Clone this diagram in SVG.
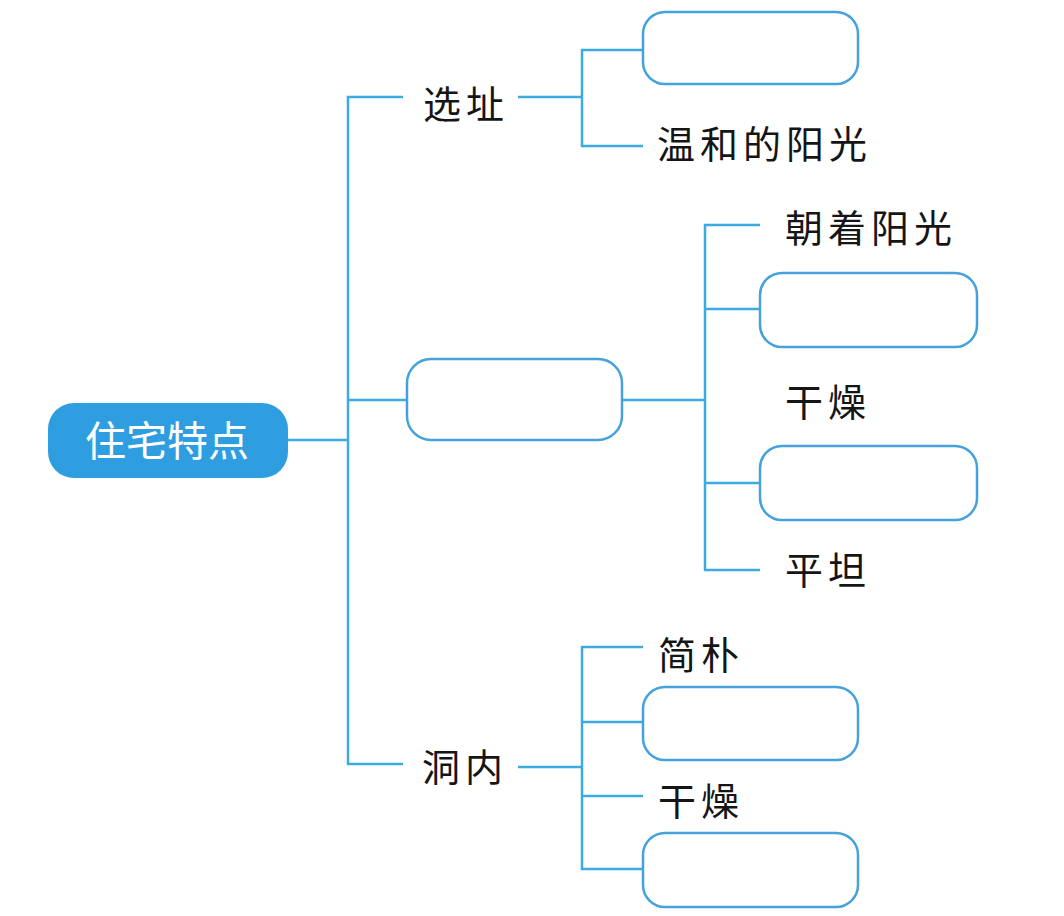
<svg xmlns="http://www.w3.org/2000/svg" width="1064" height="916" viewBox="0 0 1064 916">
<style>
.ln{stroke:#3cabe2;stroke-width:2.5;fill:none}
.box{fill:#fff;stroke:#45a2dc;stroke-width:2.5}
.t{font-family:"Noto Sans CJK SC","Noto Sans CJK TC",sans-serif;font-size:38px;fill:#151515;letter-spacing:5px}
.root{font-family:"Noto Sans CJK SC",sans-serif;font-size:41px;fill:#fff;text-anchor:middle}
</style>
<rect width="1064" height="916" fill="#fff"/>
<g id="connectors">
<path class="ln" d="M288 440H348M403 97H348V764H403M348 400H407"/>
<path class="ln" d="M518 97H582M643 50H582V146H643"/>
<path class="ln" d="M622 400H705M760 225H705V570H760M705 309H760M705 483H760"/>
<path class="ln" d="M518 767H582M643 647H582V869H643M582 722H643M582 796H643"/>
</g>
<g id="root"><rect x="48" y="403" width="240" height="75" rx="26" fill="#2f9ee0"/><text class="root" x="167" y="456">住宅特点</text></g>
<g id="n-xuanzhi"><text class="t" x="423" y="118">选址</text></g>
<g id="n-box1"><rect class="box" x="643" y="12" width="215" height="72" rx="22"/></g>
<g id="n-wenhe"><text class="t" x="657" y="158">温和的阳光</text></g>
<g id="n-mid"><rect class="box" x="407" y="359" width="215" height="81" rx="24"/></g>
<g id="n-chaozhe"><text class="t" x="785" y="242">朝着阳光</text></g>
<g id="n-box2"><rect class="box" x="760" y="273" width="217" height="74" rx="22"/></g>
<g id="n-ganzao1"><text class="t" x="785" y="416">干燥</text></g>
<g id="n-box3"><rect class="box" x="760" y="446" width="217" height="74" rx="22"/></g>
<g id="n-pingtan"><text class="t" x="785" y="584">平坦</text></g>
<g id="n-dongnei"><text class="t" x="422" y="781">洞内</text></g>
<g id="n-jianpu"><text class="t" x="658" y="669">简朴</text></g>
<g id="n-box4"><rect class="box" x="643" y="687" width="215" height="73" rx="22"/></g>
<g id="n-ganzao2"><text class="t" x="658" y="815">干燥</text></g>
<g id="n-box5"><rect class="box" x="643" y="833" width="215" height="74" rx="22"/></g>
</svg>
